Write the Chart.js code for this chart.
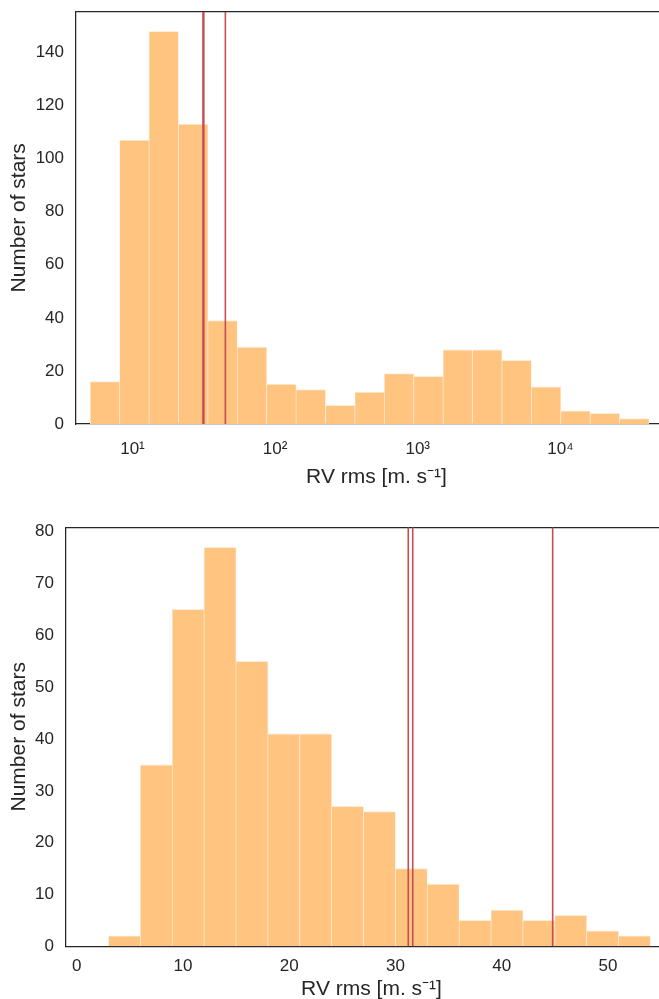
<!DOCTYPE html>
<html>
<head>
<meta charset="utf-8">
<script src="https://cdn.jsdelivr.net/npm/chart.js@4.4.1/dist/chart.umd.min.js"></script>
<style>
  html, body { margin: 0; padding: 0; background: #fff; overflow: hidden; width: 659px; height: 999px; }
  #top { position: absolute; left: 0; top: 0; width: 677px; height: 490px; }
  #bottom { position: absolute; left: 0; top: 516px; width: 677px; height: 486px; }
</style>
</head>
<body>
<div id="top"><canvas id="logChart"></canvas></div>
<div id="bottom"><canvas id="linChart"></canvas></div>
<script>
// top panel: log-spaced bins
const logEdges = [5.06, 8.13, 13.07, 21.02, 33.8, 54.3, 87.3, 140.4, 225.7, 362.9, 583.4,
                  937.9, 1508, 2424, 3897, 6266, 10074, 16196, 26036, 41860];
const logCounts = [16, 107, 148, 113, 39, 29, 15, 13, 7, 12, 19, 18, 28, 28, 24, 14, 5, 4, 2];
const logTicks = [10, 100, 1000, 10000];
const logTickLabels = ["10¹", "10²", "10³", "10⁴"];
const topYTicks = [0, 20, 40, 60, 80, 100, 120, 140];

// bottom panel: linear bins of 3 m/s
const linEdges = [3, 6, 9, 12, 15, 18, 21, 24, 27, 30, 33, 36, 39, 42, 45, 48, 51, 54];
const linCounts = [2, 35, 65, 77, 55, 41, 41, 27, 26, 15, 12, 5, 7, 5, 6, 3, 2];
const linTicks = [0, 10, 20, 30, 40, 50];
const bottomYTicks = [0, 10, 20, 30, 40, 50, 60, 70, 80];

// vertical reference lines (same values in both panels)
const refLines = [31.21, 31.63, 44.8];

const barColor = "rgb(254,196,128)";
const edgeColor = "rgba(255,236,212,0.95)";
const lineColor = "#c44e52";
const ink = "#262626";
const tickFont = { family: "'Liberation Sans', Arial, sans-serif", size: 17 };
const labelFont = { family: "'Liberation Sans', Arial, sans-serif", size: 21 };

function histBars(edges, counts, logScale) {
    return counts.map((c, i) => ({
        x: logScale ? Math.sqrt(edges[i] * edges[i + 1]) : (edges[i] + edges[i + 1]) / 2,
        y: c
    }));
}

function refDatasets(ymax) {
    return refLines.map(v => ({
        type: "line",
        data: [{ x: v, y: 0 }, { x: v, y: ymax }],
        borderColor: lineColor,
        borderWidth: 1.6,
        pointRadius: 0,
        order: 0
    }));
}

// drop the label overhang padding chart.js reserves, the axes box is placed by layout padding
function noOverhang(s) {
    s.paddingTop = 0;
    s.paddingBottom = 0;
    s.paddingLeft = 0;
    s.paddingRight = 0;
}

function makeChart(id, cfg) {
    return new Chart(document.getElementById(id), {
        type: "bar",
        data: {
            datasets: [
                ...refDatasets(cfg.ymax),
                {
                    data: histBars(cfg.edges, cfg.counts, cfg.log),
                    backgroundColor: barColor,
                    borderColor: edgeColor,
                    borderWidth: { left: 0.7, right: 0.7, top: 1, bottom: 0 },
                    borderSkipped: false,
                    barPercentage: 1,
                    categoryPercentage: 1,
                    order: 1
                }
            ]
        },
        options: {
            responsive: true,
            maintainAspectRatio: false,
            animation: false,
            layout: { padding: { top: cfg.padTop, right: 0, bottom: 0, left: 0 } },
            plugins: { legend: { display: false }, tooltip: { enabled: false } },
            scales: {
                x: {
                    type: cfg.log ? "logarithmic" : "linear",
                    offset: false,
                    min: cfg.xmin,
                    max: cfg.xmax,
                    grid: { display: false, drawTicks: false, offset: false },
                    border: { display: true, color: ink, width: 1.25 },
                    afterBuildTicks: s => { s.ticks = cfg.xticks.map(v => ({ value: v })); },
                    afterFit: s => { s.height = cfg.xAxisHeight; noOverhang(s); },
                    ticks: {
                        color: ink, font: tickFont, padding: cfg.xTickPad, maxRotation: 0, autoSkip: false,
                        callback: (v, i) => cfg.xlabels ? cfg.xlabels[i] : String(v)
                    },
                    title: {
                        display: true, text: "RV rms [m. s⁻¹]", color: ink, font: labelFont,
                        padding: { top: 0, bottom: 0 }
                    }
                },
                xTop: {
                    type: "linear",
                    position: "top",
                    grid: { display: false, drawTicks: false },
                    ticks: { display: false },
                    border: { display: true, color: ink, width: 1.25 },
                    afterFit: s => { s.height = 0; noOverhang(s); }
                },
                y: {
                    min: 0,
                    max: cfg.ymax,
                    grid: { display: false, drawTicks: false },
                    border: { display: true, color: ink, width: 1.25 },
                    afterBuildTicks: s => { s.ticks = cfg.yticks.map(v => ({ value: v })); },
                    afterFit: s => { s.width = cfg.yAxisWidth; noOverhang(s); },
                    ticks: { color: ink, font: tickFont, padding: 12 },
                    title: {
                        display: true, text: "Number of stars", color: ink, font: labelFont,
                        padding: { top: 7, bottom: 0 }
                    }
                }
            }
        }
    });
}

makeChart("logChart", {
    edges: logEdges, counts: logCounts, log: true,
    xmin: 4.017, xmax: 65770, xticks: logTicks, xlabels: logTickLabels,
    ymax: 155.4, yticks: topYTicks,
    padTop: 11.7, yAxisWidth: 76, xAxisHeight: 66, xTickPad: 15
});

makeChart("linChart", {
    edges: linEdges, counts: linCounts, log: false,
    xmin: -1.0, xmax: 56.5, xticks: linTicks, xlabels: null,
    ymax: 80.85, yticks: bottomYTicks,
    padTop: 11.3, yAxisWidth: 66, xAxisHeight: 55.7, xTickPad: 10
});
</script>
</body>
</html>
